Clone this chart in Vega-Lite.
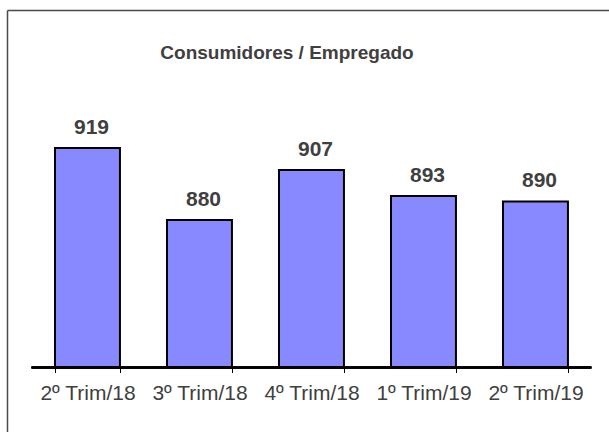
{
  "$schema": "https://vega.github.io/schema/vega-lite/v6.json",
  "width": 602,
  "height": 422,
  "autosize": {"type": "none"},
  "padding": {"left": 7, "top": 10, "right": 0, "bottom": 0},
  "background": "white",
  "title": {
    "text": "Consumidores / Empregado",
    "font": "Liberation Sans",
    "fontSize": 19,
    "fontWeight": "bold",
    "color": "#404040",
    "anchor": "middle",
    "baseline": "alphabetic",
    "dx": -21,
    "offset": -68
  },
  "config": {"view": {"stroke": null}, "font": "Liberation Sans"},
  "data": {
    "values": [
      {"q": "2º Trim/18", "v": 919},
      {"q": "3º Trim/18", "v": 880},
      {"q": "4º Trim/18", "v": 907},
      {"q": "1º Trim/19", "v": 893},
      {"q": "2º Trim/19", "v": 890}
    ]
  },
  "layer": [
    {
      "mark": {"type": "bar", "fill": "#8888ff", "stroke": "#000000", "strokeWidth": 2},
      "encoding": {
        "x": {
          "field": "q", "type": "nominal", "sort": null,
          "scale": {"paddingInner": 0.42, "paddingOuter": 0.3975, "align": 0.539},
          "axis": {
            "orient": "bottom", "offset": -64.5, "domain": false, "grid": false,
            "ticks": true, "tickBand": "extent", "tickSize": 5, "tickColor": "#000000", "tickWidth": 1,
            "labelFont": "Liberation Sans", "labelFontSize": 21, "labelColor": "#404040",
            "labelBaseline": "alphabetic", "labelPadding": 27, "labelAngle": 0, "title": null
          }
        },
        "y": {
          "field": "v", "type": "quantitative",
          "scale": {"domain": [765.1, 993.7], "nice": false, "zero": false},
          "axis": {"orient": "left", "domain": true, "domainColor": "#4a4a4a", "domainWidth": 1.5, "ticks": false, "labels": false, "grid": false, "title": null}
        },
        "y2": {"datum": 800}
      }
    },
    {
      "mark": {"type": "text", "font": "Liberation Sans", "fontSize": 21, "fontWeight": "bold", "color": "#404040", "baseline": "alphabetic", "dy": -14, "dx": 4},
      "encoding": {
        "x": {
          "field": "q", "type": "nominal", "sort": null,
          "axis": {"orient": "top", "domain": true, "domainColor": "#4a4a4a", "domainWidth": 1.5, "ticks": false, "labels": false, "grid": false, "title": null}
        },
        "y": {"field": "v", "type": "quantitative", "axis": null},
        "text": {"field": "v", "type": "quantitative"}
      }
    },
    {
      "mark": {"type": "rule", "stroke": "#000000", "strokeWidth": 2},
      "encoding": {
        "x": {"datum": "2º Trim/18", "type": "nominal", "bandPosition": -0.36, "axis": null},
        "x2": {"datum": "2º Trim/19", "bandPosition": 1.36},
        "y": {"datum": 800, "type": "quantitative", "axis": null}
      }
    }
  ],
  "resolve": {"axis": {"x": "independent", "y": "independent"}}
}
